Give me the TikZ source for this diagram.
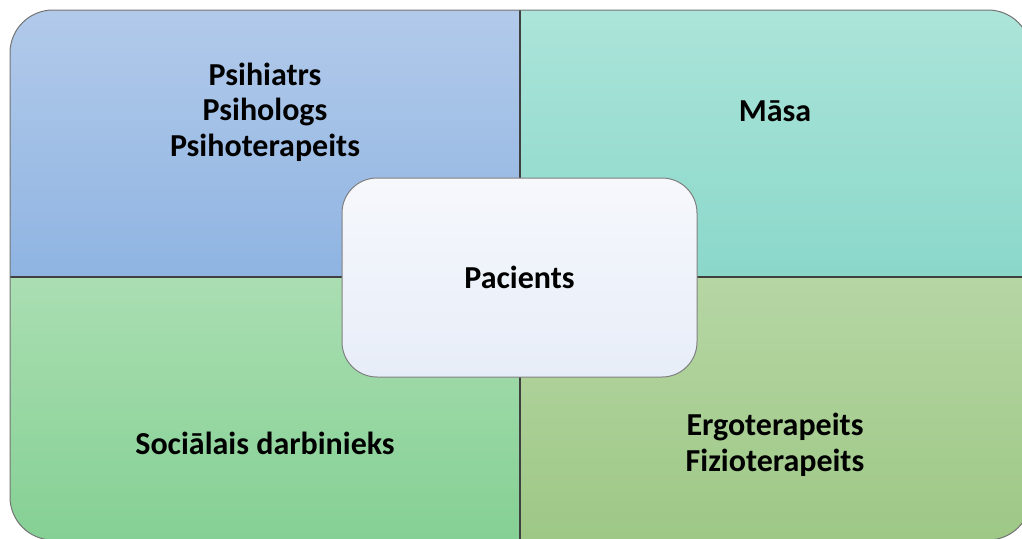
\documentclass[tikz,border=0pt]{standalone}
\usepackage{fontspec}
\setmainfont{Carlito}
\definecolor{psyTop}{RGB}{178,202,234}
\definecolor{psyBot}{RGB}{143,180,226}
\definecolor{nurseTop}{RGB}{172,228,217}
\definecolor{nurseBot}{RGB}{138,216,202}
\definecolor{socTop}{RGB}{170,222,178}
\definecolor{socBot}{RGB}{133,208,148}
\definecolor{therTop}{RGB}{182,214,164}
\definecolor{therBot}{RGB}{158,200,134}
\definecolor{patTop}{RGB}{246,248,252}
\definecolor{patBot}{RGB}{231,237,248}
\begin{document}
\begin{tikzpicture}[
    x=1pt,
    y=1pt,
    role/.style={
        align=center,
        inner sep=0pt,
        font=\fontsize{32}{35.5}\selectfont\bfseries
    },
    patient/.style={
        rectangle,
        rounded corners=35pt,
        minimum width=355pt,
        minimum height=199pt,
        draw=black!50,
        line width=1pt,
        top color=patTop,
        bottom color=patBot,
        font=\fontsize{32}{35.5}\selectfont\bfseries
    },
    divider/.style={
        draw=black!75,
        line width=1.5pt
    }
]
\useasboundingbox (0,0) rectangle (1022,-538);

% Quadrants
\begin{scope}
\clip[rounded corners=43pt] (10,-10) rectangle (1031,-540);
\shade[top color=psyTop, bottom color=psyBot] (10,-10) rectangle (520,-277);
\shade[top color=nurseTop, bottom color=nurseBot] (520,-10) rectangle (1031,-277);
\shade[top color=socTop, bottom color=socBot] (10,-277) rectangle (520,-540);
\shade[top color=therTop, bottom color=therBot] (520,-277) rectangle (1031,-540);
\draw[divider] (520,-10) -- (520,-540);
\draw[divider] (10,-277) -- (1031,-277);
\end{scope}
\draw[black!55, line width=1pt, rounded corners=43pt] (10,-10) rectangle (1031,-540);

% Centre
\node[patient] (pacients) at (519.5,-277.5) {Pacients};

% Roles
\node[role] (psych) at (265,-112) {Psihiatrs\\Psihologs\\Psihoterapeits};
\node[role] (masa) at (775,-111) {Māsa};
\node[role] (social) at (265,-443) {Sociālais darbinieks};
\node[role] (therapy) at (775,-445) {Ergoterapeits\\Fizioterapeits};

\end{tikzpicture}
\end{document}
